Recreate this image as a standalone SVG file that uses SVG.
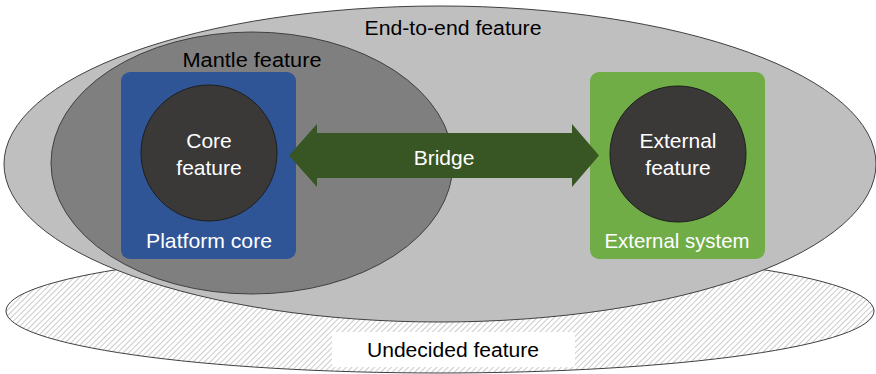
<svg xmlns="http://www.w3.org/2000/svg" width="876" height="374" viewBox="0 0 876 374">
<defs>
<pattern id="hatch" patternUnits="userSpaceOnUse" width="4" height="4" patternTransform="rotate(45)">
<rect width="4" height="4" fill="#ffffff"/>
<line x1="0" y1="0" x2="0" y2="4" stroke="#a8a8a8" stroke-width="1.2"/>
</pattern>
<style>
.t{font-family:"Liberation Sans","Noto Sans",Arial,sans-serif;text-anchor:middle;dominant-baseline:central}
.dark{fill:#000000;font-size:20px}
.light{fill:#ffffff;font-size:21px}
.ell{stroke:#404040;stroke-width:1}
.circ{fill:#3b3838;stroke:#1e1e1e;stroke-width:1}
</style>
</defs>
<g id="undecided">
<ellipse cx="440" cy="311" rx="434" ry="62" fill="url(#hatch)" class="ell"/>
<rect x="332" y="332" width="243" height="35" rx="3" fill="#ffffff"/>
<text class="t dark" x="453" y="350" textLength="172" lengthAdjust="spacingAndGlyphs">Undecided feature</text>
</g>
<g id="end-to-end">
<ellipse cx="440" cy="164" rx="436" ry="158" fill="#bfbfbf" class="ell"/>
<text class="t dark" x="453" y="28" textLength="177" lengthAdjust="spacingAndGlyphs">End-to-end feature</text>
</g>
<g id="mantle">
<ellipse cx="252" cy="163" rx="201" ry="131" fill="#7f7f7f" class="ell"/>
<text class="t dark" x="252" y="60" textLength="139" lengthAdjust="spacingAndGlyphs">Mantle feature</text>
</g>
<g id="platform-core">
<rect x="121" y="72" width="175" height="187" rx="9" fill="#2f5597"/>
<text class="t light" x="209" y="240" textLength="126" lengthAdjust="spacingAndGlyphs">Platform core</text>
</g>
<g id="core-feature">
<circle cx="209" cy="153" r="68" class="circ"/>
<text class="t light" x="209" y="140">Core</text>
<text class="t light" x="209" y="167">feature</text>
</g>
<g id="external-system">
<rect x="590" y="72" width="175" height="187" rx="9" fill="#70ad47"/>
<text class="t light" x="677" y="240" textLength="145" lengthAdjust="spacingAndGlyphs">External system</text>
</g>
<g id="external-feature">
<circle cx="678" cy="154" r="68" class="circ"/>
<text class="t light" x="678" y="140">External</text>
<text class="t light" x="678" y="167">feature</text>
</g>
<g id="connectors">
<g id="bridge">
<polygon points="289,155.5 317,124 317,133 572,133 572,124 599,155.5 572,187 572,178 317,178 317,187" fill="#375623"/>
<text class="t light" x="444" y="157">Bridge</text>
</g>
</g>
</svg>
